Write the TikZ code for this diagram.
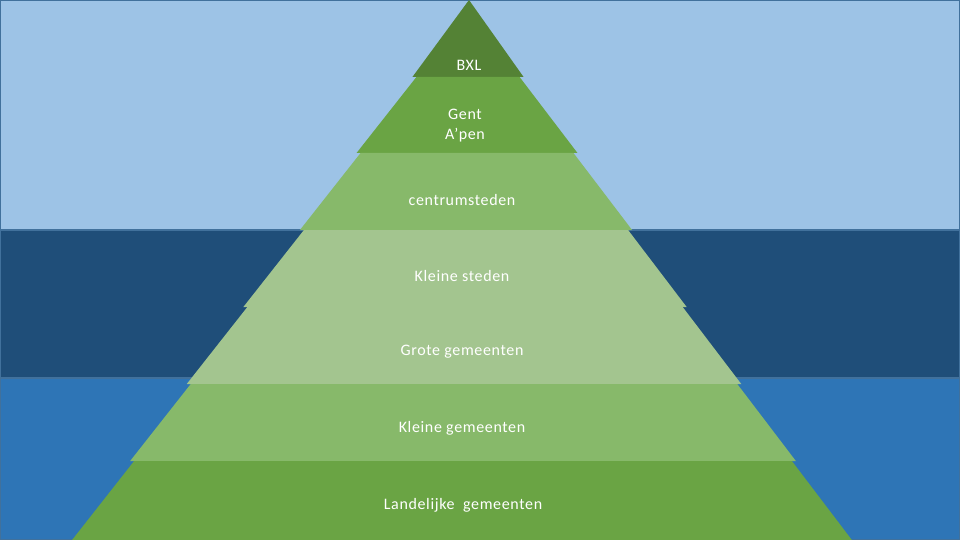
\documentclass[tikz,border=0pt]{standalone}
\usepackage{fontspec}
\setmainfont{Carlito}
\newfontfamily\lblfont[LetterSpace=4]{Carlito}
\usetikzlibrary{positioning}

\definecolor{skyblue}{HTML}{9DC3E6}
\definecolor{deepblue}{HTML}{1F4E79}
\definecolor{seablue}{HTML}{2E75B6}
\definecolor{bandedge}{HTML}{41719C}
\definecolor{greenA}{HTML}{548235}
\definecolor{greenB}{HTML}{6AA444}
\definecolor{greenC}{HTML}{87B96A}
\definecolor{greenD}{HTML}{A3C58F}

\begin{document}
\begin{tikzpicture}[
  x=1pt, y=-1pt,
  band/.style={draw=bandedge, line width=1.2pt},
  label/.style={text=white, font=\lblfont\fontsize{16}{20}\selectfont, align=center, inner sep=0pt},
]
  \useasboundingbox (0,0) rectangle (960,540);

  % sea and sky
  \filldraw[band, fill=skyblue] (0,0) rectangle (960,230);
  \filldraw[band, fill=deepblue] (0,230) rectangle (960,378);
  \filldraw[band, fill=seablue] (0,378) rectangle (960,540);

  % pyramid layers, top corners set in a little
  \fill[greenA] (469,0) -- ({469+0.709*77},77) -- ({469-0.735*77},77) -- cycle;
  \foreach \yt/\yb/\col in {77/153/greenB, 153/230/greenC, 230/307/greenD,
                            307/384/greenD, 384/461/greenC, 461/540/greenB}
    \fill[\col] ({469-0.735*\yt+4},\yt) -- ({469+0.709*\yt-4},\yt)
      -- ({469+0.709*\yb},\yb) -- ({469-0.735*\yb},\yb) -- cycle;

  \node[label] (bxl) at (469,65) {BXL};
  \node[label] (gent) at (465,126) {Gent\\A’pen};
  \node[label] (centrum) at (462,200) {centrumsteden};
  \node[label] (kleinst) at (462,276) {Kleine steden};
  \node[label] (grotegem) at (462,352) {Grote gemeenten};
  \node[label] (kleinegem) at (462,428) {Kleine gemeenten};
  \node[label] (landgem) at (463,505) {Landelijke\ \ gemeenten};
\end{tikzpicture}
\end{document}
